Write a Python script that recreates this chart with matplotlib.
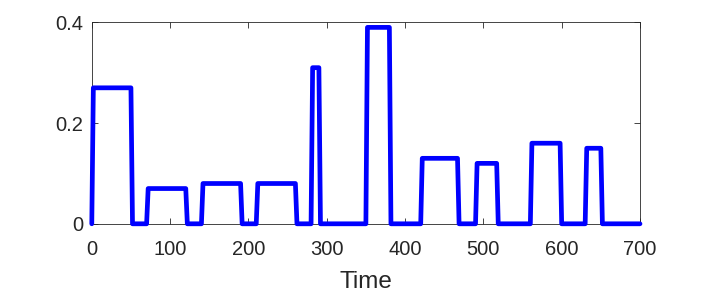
import matplotlib
matplotlib.use("Agg")
import matplotlib.pyplot as plt

# Pulse data
rise_times = [0, 70, 140, 210, 280, 350, 420, 490, 560, 630]
fall_times = [50, 120, 190, 260, 290, 380, 467, 517, 598, 650]
levels = [0.27, 0.07, 0.08, 0.08, 0.31, 0.39, 0.13, 0.12, 0.16, 0.15]
t_end = 700
dt = 2  # sample spacing of the signal

# Build the step signal vertices
t = []
y = []
for r, f, h in zip(rise_times, fall_times, levels):
    t += [r, r + dt, f, f + dt]
    y += [0, h, h, 0]
t.append(t_end)
y.append(0)

plt.rcParams["font.family"] = ["Liberation Sans", "DejaVu Sans"]

fig = plt.figure(figsize=(7.06, 2.98), dpi=100)
ax = fig.add_axes([0.130, 0.249, 0.7765, 0.676])
ax.plot(t, y, color="#0000ff", linewidth=3.4, solid_joinstyle="round",
        solid_capstyle="round", clip_on=False, zorder=5)

ax.set_xlim(0, 700)
ax.set_ylim(0, 0.4)
ax.set_xticks(range(0, 701, 100))
ax.set_yticks([0, 0.2, 0.4])
ax.set_yticklabels(["0", "0.2", "0.4"])
ax.tick_params(direction="in", top=True, right=True, length=4, width=0.6,
               colors="#262626", labelsize=14.5)
ax.tick_params(axis="x", pad=12)
ax.tick_params(axis="y", pad=6)
for s in ax.spines.values():
    s.set_linewidth(0.6)
    s.set_color("#262626")
ax.set_xlabel("Time", fontsize=17.5, color="#262626", labelpad=8)

fig.savefig("out.png", dpi=100)
